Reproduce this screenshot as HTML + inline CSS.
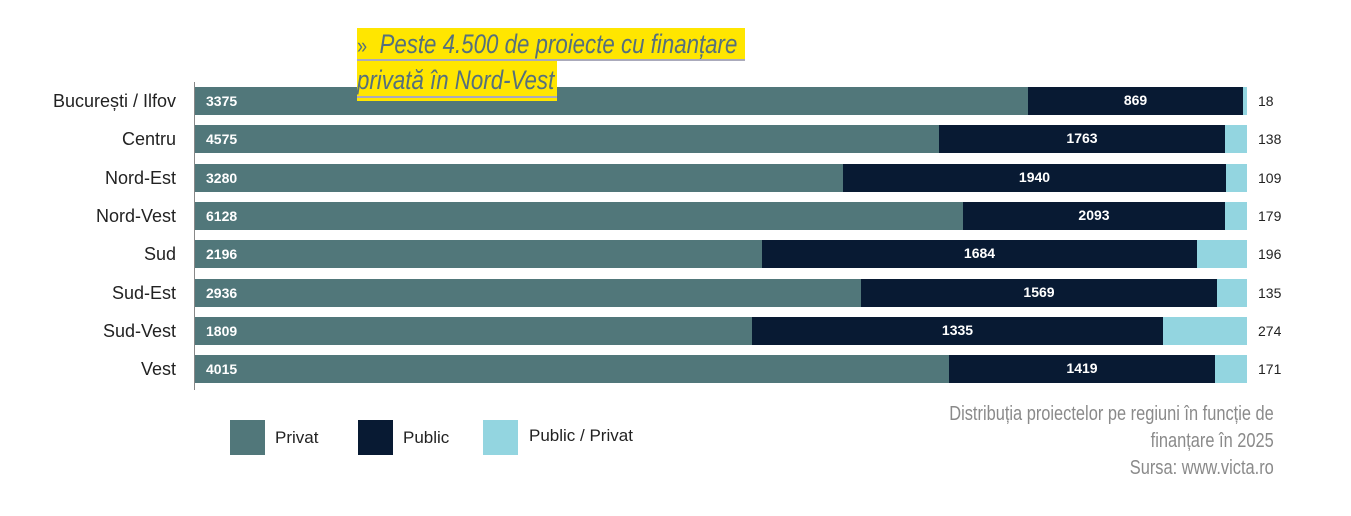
<!DOCTYPE html>
<html><head><meta charset="utf-8"><style>
body{margin:0;width:1351px;height:516px;background:#fff;position:relative;overflow:hidden;font-family:"Liberation Sans","DejaVu Sans",sans-serif}
.a{position:absolute}
.lbl{position:absolute;right:1175px;font-size:18px;color:#222;white-space:nowrap;line-height:28px}
.seg{position:absolute;height:28px}
.pv{background:#51777a}.pb{background:#081a33}.pp{background:#93d5e0}
.v{position:absolute;color:#fff;font-size:14px;font-weight:bold;line-height:28px}
.r{position:absolute;left:1258px;font-size:14px;color:#222;line-height:28px}
</style></head><body>
<div class="a" style="left:194px;top:82px;width:1px;height:308px;background:#888"></div>
<div id="rows"></div>
<div class="a" style="left:357px;top:28px;width:388px;height:33px;background:#ffe600"></div>
<div class="a" style="left:357px;top:61px;width:200px;height:40px;background:#ffe600"></div>
<div class="a" style="left:357px;top:59px;width:388px;height:2px;background:#aab"></div>
<div class="a" style="left:357px;top:96px;width:200px;height:2px;background:#aab"></div>
<div class="a" style="left:357px;top:27px;font-size:27px;color:#55707d;font-style:italic;line-height:35px;white-space:nowrap;transform:scaleX(0.825);transform-origin:left top"><span style="font-style:normal;font-size:22px">»</span>&nbsp; Peste 4.500 de proiecte cu finanțare<br>privată în Nord-Vest</div>
<div class="a" style="left:230px;top:420px;width:35px;height:35px;background:#51777a"></div>
<div class="a" style="left:275px;top:428px;font-size:17px;color:#222">Privat</div>
<div class="a" style="left:358px;top:420px;width:35px;height:35px;background:#081a33"></div>
<div class="a" style="left:403px;top:428px;font-size:17px;color:#222">Public</div>
<div class="a" style="left:483px;top:420px;width:35px;height:35px;background:#93d5e0"></div>
<div class="a" style="left:529px;top:426px;font-size:17px;color:#222">Public / Privat</div>
<div class="a" style="right:77px;top:401px;font-size:20px;color:#8a8a8a;text-align:right;line-height:27px;white-space:nowrap;transform:scaleX(0.82);transform-origin:right top">Distribuția proiectelor pe regiuni în funcție de<br>finanțare în 2025<br>Sursa: www.victa.ro</div>
<script>
var d=[["București / Ilfov",3375,869,18,1028,1243],["Centru",4575,1763,138,939,1225],["Nord-Est",3280,1940,109,843,1226],["Nord-Vest",6128,2093,179,963,1225],["Sud",2196,1684,196,762,1197],["Sud-Est",2936,1569,135,861,1217],["Sud-Vest",1809,1335,274,752,1163],["Vest",4015,1419,171,949,1215]];
var h="";
d.forEach(function(r,i){var t=87+i*38.3;
h+='<div class="lbl" style="top:'+t+'px">'+r[0]+'</div>';
h+='<div class="seg pv" style="left:195px;top:'+t+'px;width:'+(r[4]-195)+'px"></div>';
h+='<div class="seg pb" style="left:'+r[4]+'px;top:'+t+'px;width:'+(r[5]-r[4])+'px"></div>';
h+='<div class="seg pp" style="left:'+r[5]+'px;top:'+t+'px;width:'+(1247-r[5])+'px"></div>';
h+='<div class="v" style="left:206px;top:'+t+'px">'+r[1]+'</div>';
h+='<div class="v" style="left:'+((r[4]+r[5])/2-20)+'px;width:40px;text-align:center;top:'+(t-1)+'px">'+r[2]+'</div>';
h+='<div class="r" style="top:'+t+'px">'+r[3]+'</div>';});
document.getElementById("rows").innerHTML=h;
</script>
</body></html>
